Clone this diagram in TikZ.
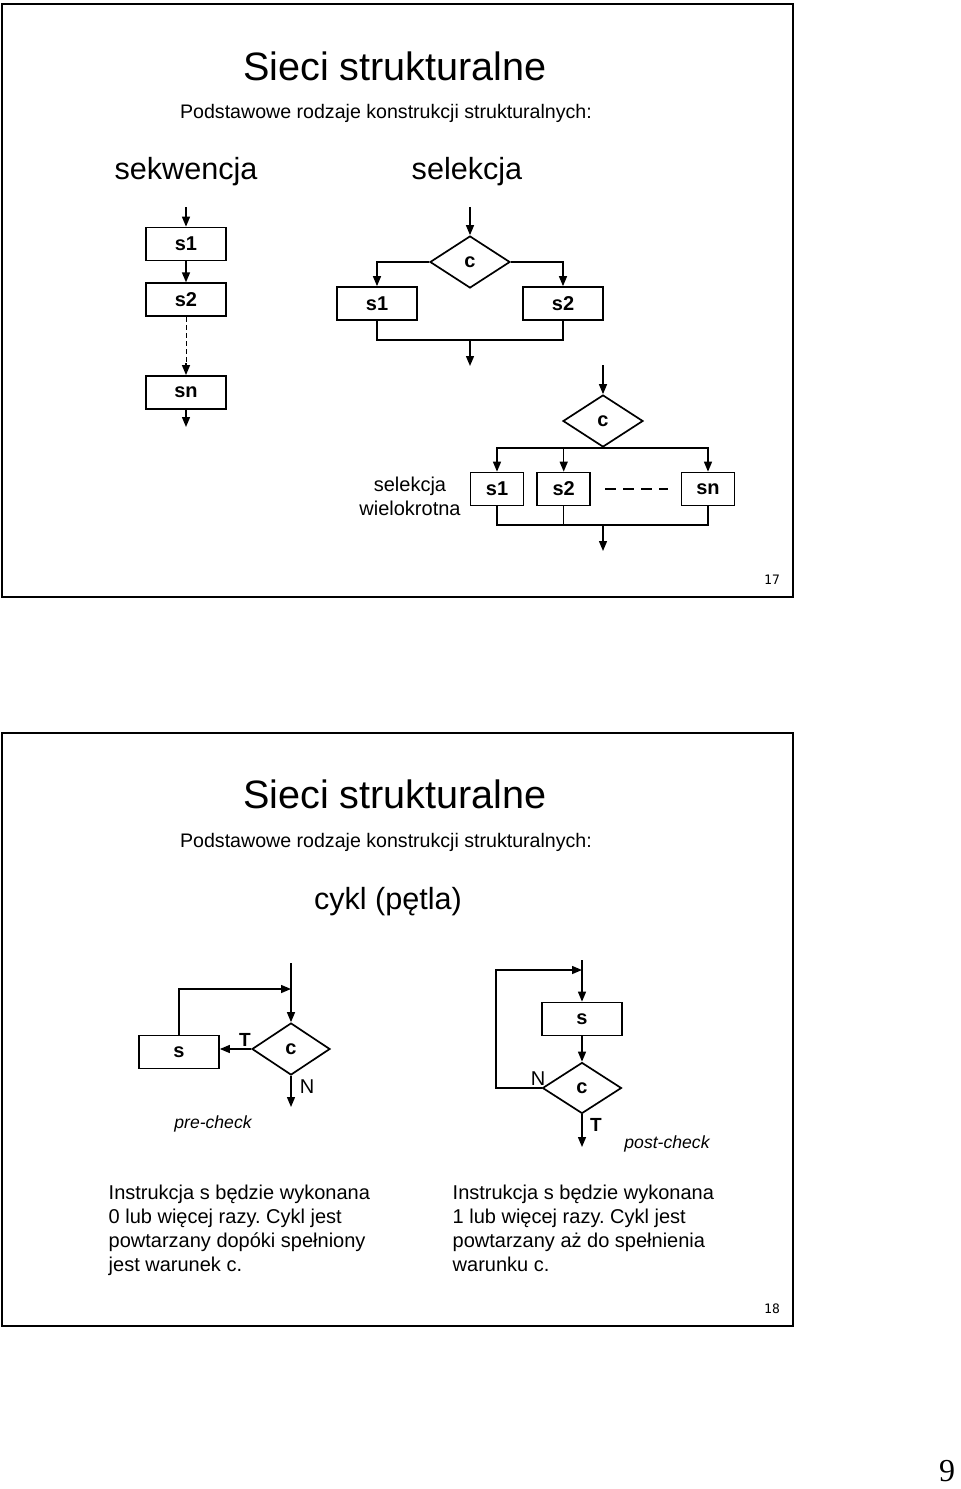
\documentclass[tikz,border=0pt]{standalone}
\usepackage{fontspec}
\setmainfont{Liberation Sans}
\newfontfamily\numfont{DejaVu Sans Mono}
\newfontfamily\pagefont{Liberation Serif}
\usetikzlibrary{shapes.geometric, positioning, arrows.meta, calc}
\frenchspacing

\begin{document}
\begin{tikzpicture}[x=0.5pt, y=-0.5pt, line width=0.7pt, >={Triangle[length=5pt,width=4pt]}]
  \tikzset{
    box/.style={rectangle, draw, line width=0.85pt, minimum width=40pt, minimum height=16.5pt,
      inner sep=0pt, font=\fontsize{10}{11}\selectfont\bfseries},
    sbox/.style={box, minimum width=26.5pt},
    cond/.style={diamond, draw, line width=0.85pt, minimum width=40pt, minimum height=26pt,
      inner sep=0pt, font=\fontsize{10}{11}\selectfont\bfseries},
    slide/.style={draw, line width=1.4pt},
    title/.style={font=\fontsize{19.8}{24}\selectfont, inner sep=0pt},
    subtitle/.style={font=\fontsize{9.8}{12}\selectfont, inner sep=0pt},
    head/.style={font=\fontsize{15.3}{18}\selectfont, inner sep=0pt},
    lbl/.style={font=\fontsize{10}{11}\selectfont, inner sep=0pt},
    note/.style={font=\fontsize{8.8}{10}\selectfont\itshape, inner sep=0pt},
    para/.style={font=\fontsize{10}{12}\selectfont, align=left, inner sep=0pt, anchor=north west},
    pnum/.style={font=\numfont\fontsize{6.5}{8}\selectfont, inner sep=0pt},
    gap/.style={line width=1.2pt, dash pattern=on 5.5pt off 3.5pt},
  }
  \useasboundingbox (0,0) rectangle (960,1489);

  % slide 17
  \draw[slide] (2,4) rectangle (793,597);
  \node[title] (t1) at (395,66) {Sieci strukturalne};
  \node[subtitle] (st1) at (386,113) {Podstawowe rodzaje konstrukcji strukturalnych:};
  \node[head] (hseq) at (186,172) {sekwencja};
  \node[head] (hsel) at (467,172) {selekcja};

  % sekwencja
  \node[box] (s1) at (186,244) {s1};
  \node[box, below=10.5pt of s1] (s2) {s2};
  \node[box, below=29pt of s2] (sn) {sn};
  \coordinate (seqin) at (186,207);
  \coordinate (seqout) at (186,427);
  \coordinate (seqdot) at (186,363);
  \draw[->] (seqin) -- (s1);
  \draw[->] (s1) -- (s2);
  \draw[line width=0.5pt, dash pattern=on 2.5pt off 1.5pt] (s2) -- (seqdot);
  \draw[->] (seqdot) -- (sn);
  \draw[->] (sn) -- (seqout);

  % selekcja
  \node[cond] (c1) at (470,262) {c};
  \node[box] (ss1) at (377,303.5) {s1};
  \node[box] (ss2) at (563,303.5) {s2};
  \coordinate (selin) at (470,207);
  \coordinate (seljn) at (470,340);
  \coordinate (selout) at (470,366);
  \draw[->] (selin) -- (c1);
  \draw[->] (c1.west) -| (ss1.north);
  \draw[->] (c1.east) -| (ss2.north);
  \draw (ss1.south) |- (seljn) -| (ss2.south);
  \draw[->] (seljn) -- (selout);

  % selekcja wielokrotna
  \node[cond] (c2) at (603,421) {c};
  \node[sbox] (m1) at (497,489) {s1};
  \node[sbox, right=6pt of m1] (m2) {s2};
  \node[sbox] (mn) at (708,489) {sn};
  \node[lbl, align=center, font=\fontsize{10}{12}\selectfont] (lmul) at (410,496) {selekcja\\wielokrotna};
  \coordinate (mulin) at (603,365);
  \coordinate (muljn) at (603,525);
  \coordinate (mulout) at (603,551);
  \draw[->] (mulin) -- (c2);
  \draw[->] (c2.south) -| (m1.north);
  \draw[->] (c2.south) -| (m2.north);
  \draw[->] (c2.south) -| (mn.north);
  \draw[gap] ($(m2.east)+(14,0)$) -- ($(mn.west)+(-13,0)$);
  \draw (m1.south) |- (muljn) -| (mn.south);
  \draw (m2.south) -- (m2.south |- muljn);
  \draw[->] (muljn) -- (mulout);

  \node[pnum] (p17) at (772,580) {17};

  % slide 18
  \draw[slide] (2,733) rectangle (793,1326);
  \node[title] (t2) at (395,794) {Sieci strukturalne};
  \node[subtitle] (st2) at (386,842) {Podstawowe rodzaje konstrukcji strukturalnych:};
  \node[head] (hcyk) at (388,902) {cykl (pętla)};

  % pre-check
  \node[cond, minimum width=39pt] (d1) at (291,1049) {c};
  \node[box] (bs) at (179,1052) {s};
  \coordinate (prein) at (291,963);
  \coordinate (preloop) at (291,989);
  \coordinate (preout) at (291,1107);
  \draw[->] (prein) -- (d1);
  \draw[->] (d1.west) -- (d1.west -| bs.east);
  \draw[->] (bs.north) |- (preloop);
  \draw[->] (d1.south) -- (preout);
  \node[lbl, font=\fontsize{9.5}{11}\selectfont\bfseries] (tpre) at (245,1040) {T};
  \node[lbl] (npre) at (307,1087) {N};
  \node[note] (lpre) at (213,1124) {pre-check};

  % post-check
  \node[box] (ps) at (582,1019) {s};
  \node[cond, minimum width=39.5pt, minimum height=25.5pt] (d2) at (582,1088) {c};
  \coordinate (postin) at (582,960);
  \coordinate (postl) at (496,970);
  \coordinate (postloop) at (582,970);
  \coordinate (postout) at (582,1147);
  \draw[->] (postin) -- (ps);
  \draw[->] (ps) -- (d2);
  \draw[->] (d2.west) -| (postl) -- (postloop);
  \draw[->] (d2.south) -- (postout);
  \node[lbl] (npost) at (538,1079) {N};
  \node[lbl, font=\fontsize{9.5}{11}\selectfont\bfseries] (tpost) at (596,1125) {T};
  \node[note] (lpost) at (667,1144) {post-check};

  \node[para] (txl) at (108,1184) {Instrukcja s będzie wykonana\\0 lub więcej razy. Cykl jest\\powtarzany dopóki spełniony\\jest warunek c.};
  \node[para] (txr) at (452,1184) {Instrukcja s będzie wykonana\\1 lub więcej razy. Cykl jest\\powtarzany aż do spełnienia\\warunku c.};

  \node[pnum] (p18) at (772,1309) {18};
  \node[font=\pagefont\fontsize{16}{18}\selectfont, inner sep=0pt] (p9) at (947,1471) {9};
\end{tikzpicture}
\end{document}
